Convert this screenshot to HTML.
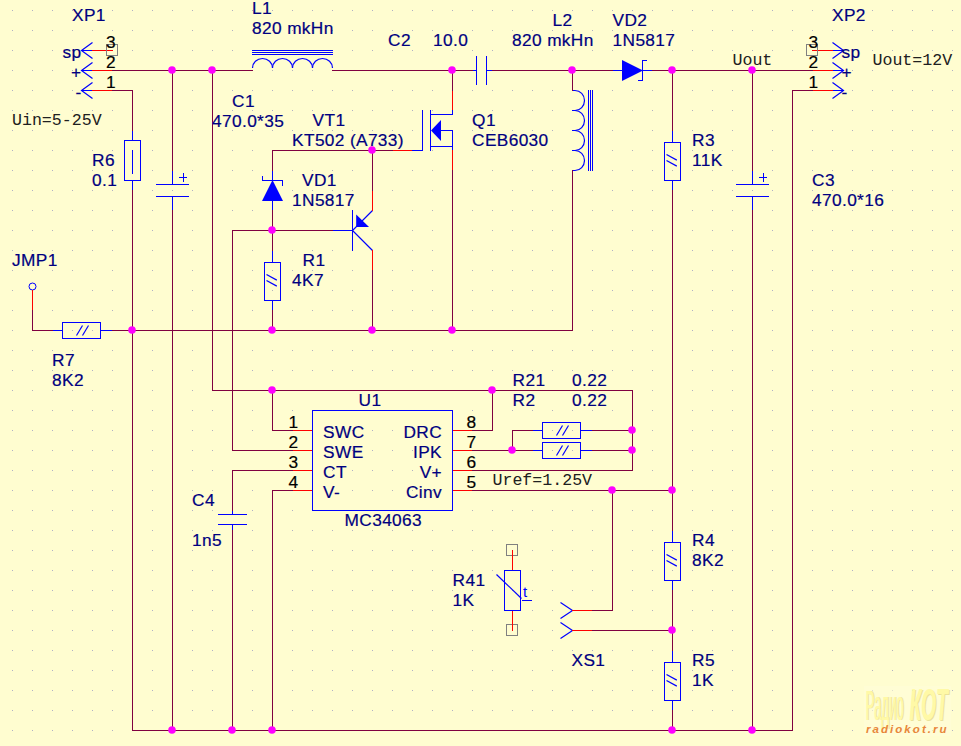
<!DOCTYPE html>
<html><head><meta charset="utf-8"><title>MC34063 SEPIC schematic</title>
<style>
html,body{margin:0;padding:0;background:#fffdd0;}
body{width:961px;height:746px;overflow:hidden;}
svg{display:block;}
svg *{shape-rendering:crispEdges;stroke-width:1;stroke-linecap:square;}
svg .aa{shape-rendering:geometricPrecision;stroke-linecap:butt;stroke-width:1.2;}
text{stroke:none;}
text.s{stroke:currentColor;stroke-width:0.2px;shape-rendering:geometricPrecision;}
.s{font-family:"Liberation Sans",sans-serif;letter-spacing:0.35px;}
.t{font-family:"Liberation Sans",sans-serif;}
.m{font-family:"Liberation Mono",monospace;}
.wm{font-family:"Liberation Sans",sans-serif;}
</style></head><body>
<svg width="961" height="746" viewBox="0 0 961 746">
<defs><pattern id="grid" x="0" y="0" width="20" height="20" patternUnits="userSpaceOnUse">
<rect x="12" y="10" width="1" height="1" fill="#b0b0c4" stroke="none"/></pattern></defs>
<rect x="0" y="0" width="961" height="746" fill="#fffdd0" stroke="none"/>
<rect x="0" y="0" width="961" height="746" fill="url(#grid)" stroke="none"/>
<g id="wm" stroke="none">
<rect x="864" y="686" width="87" height="50" fill="#fffed8" fill-opacity="0.6"/>
<text x="0" y="0" transform="translate(866.6,720.3) scale(0.60,1.96)" class="wm" font-size="22" font-weight="normal" stroke-width="0.6" fill="#ebe29a">Радио</text>
<text x="0" y="0" transform="translate(865.6,719.5) scale(0.60,1.96)" class="wm" font-size="22" font-weight="normal" stroke-width="0.6" fill="#fff9a6">Радио</text>
<text x="0" y="0" transform="translate(910.5,721) scale(0.80,1.88)" class="wm" font-size="24" font-weight="bold" font-style="italic" fill="#ebe29a">КОТ</text>
<text x="0" y="0" transform="translate(909.5,720.2) scale(0.80,1.88)" class="wm" font-size="24" font-weight="bold" font-style="italic" fill="#fff9a6">КОТ</text>
<text x="866" y="733" class="wm" font-size="11.5" font-weight="bold" font-style="italic" fill="#e8873a" letter-spacing="2.05">radiokot.ru</text>
</g>
<g transform="translate(0.5,0.5)">
<polyline points="81,50 92,50" stroke="#0000ff" fill="none"/>
<polyline points="92,42 81,50 92,58" stroke="#0000ff" fill="none" class="aa"/>
<polyline points="92,50 112,50" stroke="#ff0000" fill="none"/>
<polyline points="81,70 92,70" stroke="#0000ff" fill="none"/>
<polyline points="92,62 81,70 92,78" stroke="#0000ff" fill="none" class="aa"/>
<polyline points="92,70 112,70" stroke="#ff0000" fill="none"/>
<polyline points="81,90 92,90" stroke="#0000ff" fill="none"/>
<polyline points="92,82 81,90 92,98" stroke="#0000ff" fill="none" class="aa"/>
<polyline points="92,90 112,90" stroke="#ff0000" fill="none"/>
<rect x="106" y="44" width="11" height="11" stroke="#808080" fill="none"/>
<polyline points="843,50 832,50" stroke="#0000ff" fill="none"/>
<polyline points="832,42 843,50 832,58" stroke="#0000ff" fill="none" class="aa"/>
<polyline points="832,50 812,50" stroke="#ff0000" fill="none"/>
<polyline points="843,70 832,70" stroke="#0000ff" fill="none"/>
<polyline points="832,62 843,70 832,78" stroke="#0000ff" fill="none" class="aa"/>
<polyline points="832,70 812,70" stroke="#ff0000" fill="none"/>
<polyline points="843,90 832,90" stroke="#0000ff" fill="none"/>
<polyline points="832,82 843,90 832,98" stroke="#0000ff" fill="none" class="aa"/>
<polyline points="832,90 812,90" stroke="#ff0000" fill="none"/>
<rect x="806" y="44" width="11" height="11" stroke="#808080" fill="none"/>
<polyline points="560,602 572,610 560,618" stroke="#0000ff" fill="none" class="aa"/>
<polyline points="572,610 592,610" stroke="#ff0000" fill="none"/>
<polyline points="560,622 572,630 560,638" stroke="#0000ff" fill="none" class="aa"/>
<polyline points="572,630 592,630" stroke="#ff0000" fill="none"/>
<polyline points="132,130 132,140" stroke="#0000ff" fill="none"/>
<polyline points="132,180 132,190" stroke="#0000ff" fill="none"/>
<rect x="124" y="140" width="16" height="40" stroke="#0000ff" fill="none"/>
<polyline points="132,150 132,173" stroke="#0000ff" fill="none"/>
<polyline points="672,130 672,142" stroke="#0000ff" fill="none"/>
<polyline points="672,180 672,190" stroke="#0000ff" fill="none"/>
<rect x="664" y="142" width="16" height="38" stroke="#0000ff" fill="none"/>
<polyline points="666,154 676.3,159.6" stroke="#0000ff" fill="none" class="aa"/>
<polyline points="666,160 676.3,165.6" stroke="#0000ff" fill="none" class="aa"/>
<polyline points="272,250 272,262" stroke="#0000ff" fill="none"/>
<polyline points="272,300 272,310" stroke="#0000ff" fill="none"/>
<rect x="264" y="262" width="16" height="38" stroke="#0000ff" fill="none"/>
<polyline points="266,274 276.3,279.6" stroke="#0000ff" fill="none" class="aa"/>
<polyline points="266,280 276.3,285.6" stroke="#0000ff" fill="none" class="aa"/>
<polyline points="672,530 672,542" stroke="#0000ff" fill="none"/>
<polyline points="672,580 672,590" stroke="#0000ff" fill="none"/>
<rect x="664" y="542" width="16" height="38" stroke="#0000ff" fill="none"/>
<polyline points="666,554 676.3,559.6" stroke="#0000ff" fill="none" class="aa"/>
<polyline points="666,560 676.3,565.6" stroke="#0000ff" fill="none" class="aa"/>
<polyline points="672,650 672,662" stroke="#0000ff" fill="none"/>
<polyline points="672,700 672,710" stroke="#0000ff" fill="none"/>
<rect x="664" y="662" width="16" height="38" stroke="#0000ff" fill="none"/>
<polyline points="666,674 676.3,679.6" stroke="#0000ff" fill="none" class="aa"/>
<polyline points="666,680 676.3,685.6" stroke="#0000ff" fill="none" class="aa"/>
<polyline points="52,330 62,330" stroke="#0000ff" fill="none"/>
<polyline points="100,330 112,330" stroke="#0000ff" fill="none"/>
<rect x="62" y="322" width="38" height="16" stroke="#0000ff" fill="none"/>
<polyline points="76,335 82,325" stroke="#0000ff" fill="none" class="aa"/>
<polyline points="82,335 88,325" stroke="#0000ff" fill="none" class="aa"/>
<polyline points="532,430 542,430" stroke="#0000ff" fill="none"/>
<polyline points="580,430 592,430" stroke="#0000ff" fill="none"/>
<rect x="542" y="422" width="38" height="16" stroke="#0000ff" fill="none"/>
<polyline points="556,435 562,425" stroke="#0000ff" fill="none" class="aa"/>
<polyline points="562,435 568,425" stroke="#0000ff" fill="none" class="aa"/>
<polyline points="532,450 542,450" stroke="#0000ff" fill="none"/>
<polyline points="580,450 592,450" stroke="#0000ff" fill="none"/>
<rect x="542" y="442" width="38" height="16" stroke="#0000ff" fill="none"/>
<polyline points="556,455 562,445" stroke="#0000ff" fill="none" class="aa"/>
<polyline points="562,455 568,445" stroke="#0000ff" fill="none" class="aa"/>
<polyline points="172,170 172,184" stroke="#0000ff" fill="none"/>
<polyline points="172,196 172,210" stroke="#0000ff" fill="none"/>
<polyline points="156,184 188,184" stroke="#0000ff" fill="none"/>
<polyline points="156,196 188,196" stroke="#0000ff" fill="none"/>
<polyline points="179,177 186,177" stroke="#0000ff" fill="none"/>
<polyline points="183,173 183,181" stroke="#0000ff" fill="none"/>
<polyline points="752,170 752,184" stroke="#0000ff" fill="none"/>
<polyline points="752,196 752,210" stroke="#0000ff" fill="none"/>
<polyline points="736,184 768,184" stroke="#0000ff" fill="none"/>
<polyline points="736,196 768,196" stroke="#0000ff" fill="none"/>
<polyline points="759,177 766,177" stroke="#0000ff" fill="none"/>
<polyline points="763,173 763,181" stroke="#0000ff" fill="none"/>
<polyline points="472,70 476,70" stroke="#0000ff" fill="none"/>
<polyline points="486,70 492,70" stroke="#0000ff" fill="none"/>
<polyline points="476,56 476,84" stroke="#0000ff" fill="none"/>
<polyline points="486,56 486,84" stroke="#0000ff" fill="none"/>
<polyline points="232,510 232,514" stroke="#0000ff" fill="none"/>
<polyline points="232,524 232,530" stroke="#0000ff" fill="none"/>
<polyline points="218,514 246,514" stroke="#0000ff" fill="none"/>
<polyline points="218,524 246,524" stroke="#0000ff" fill="none"/>
<path d="M252,67.5 A10,9.5 0 0 1 272,67.5" stroke="#0000ff" fill="none" class="aa"/>
<path d="M272,67.5 A10,9.5 0 0 1 292,67.5" stroke="#0000ff" fill="none" class="aa"/>
<path d="M292,67.5 A10,9.5 0 0 1 312,67.5" stroke="#0000ff" fill="none" class="aa"/>
<path d="M312,67.5 A10,9.5 0 0 1 332,67.5" stroke="#0000ff" fill="none" class="aa"/>
<polyline points="252,50 332,50" stroke="#0000ff" fill="none"/>
<polyline points="252,52 332,52" stroke="#0000ff" fill="none"/>
<polyline points="252,54 332,54" stroke="#0000ff" fill="none"/>
<path d="M574.5,90 A9.5,10 0 0 1 574.5,110" stroke="#0000ff" fill="none" class="aa"/>
<path d="M574.5,110 A9.5,10 0 0 1 574.5,130" stroke="#0000ff" fill="none" class="aa"/>
<path d="M574.5,130 A9.5,10 0 0 1 574.5,150" stroke="#0000ff" fill="none" class="aa"/>
<path d="M574.5,150 A9.5,10 0 0 1 574.5,170" stroke="#0000ff" fill="none" class="aa"/>
<polyline points="572,90 574,90" stroke="#0000ff" fill="none"/>
<polyline points="572,110 574,110" stroke="#0000ff" fill="none"/>
<polyline points="572,130 574,130" stroke="#0000ff" fill="none"/>
<polyline points="572,150 574,150" stroke="#0000ff" fill="none"/>
<polyline points="572,170 574,170" stroke="#0000ff" fill="none"/>
<polyline points="588,90 588,170" stroke="#0000ff" fill="none"/>
<polyline points="590,90 590,170" stroke="#0000ff" fill="none"/>
<polyline points="592,90 592,170" stroke="#0000ff" fill="none"/>
<polyline points="272,170 272,180" stroke="#0000ff" fill="none"/>
<polyline points="272,200 272,210" stroke="#0000ff" fill="none"/>
<polygon points="261.5,200.5 282.5,200.5 272,179.5" fill="#0000ff" stroke="none" class="aa"/>
<polyline points="262,176 262,180 282,180 282,185" stroke="#0000ff" fill="none"/>
<polyline points="612,70 622,70" stroke="#0000ff" fill="none"/>
<polyline points="642,70 652,70" stroke="#0000ff" fill="none"/>
<polygon points="621.5,59.5 621.5,80.5 642.5,70" fill="#0000ff" stroke="none" class="aa"/>
<polyline points="646,60 642,60 642,80 638,80" stroke="#0000ff" fill="none"/>
<polyline points="332,230 352,230" stroke="#0000ff" fill="none"/>
<polyline points="352,210 352,250" stroke="#0000ff" fill="none"/>
<polyline points="372,210 352,230 372,250" stroke="#0000ff" fill="none" class="aa"/>
<polyline points="372,190 372,210" stroke="#ff0000" fill="none"/>
<polyline points="372,250 372,270" stroke="#ff0000" fill="none"/>
<polygon points="355.7,213.9 355.7,226.4 368.5,226.4" fill="#0000ff" stroke="none" class="aa"/>
<polyline points="392,150 412,150" stroke="#ff0000" fill="none"/>
<polyline points="412,150 422,150 422,110" stroke="#0000ff" fill="none"/>
<polyline points="430,110 430,150" stroke="#0000ff" fill="none"/>
<polyline points="452,90 452,110" stroke="#ff0000" fill="none"/>
<polyline points="452,110 452,114 430,114" stroke="#0000ff" fill="none"/>
<polyline points="441,130 452,130 452,150" stroke="#0000ff" fill="none"/>
<polyline points="430,146 452,146" stroke="#0000ff" fill="none"/>
<polyline points="452,150 452,170" stroke="#ff0000" fill="none"/>
<polygon points="430.5,130 440.5,119.5 440.5,140.5" fill="#0000ff" stroke="none" class="aa"/>
<circle cx="32" cy="286" r="3.5" stroke="#0000ff" fill="none" class="aa" style="stroke-width:1"/>
<polyline points="32,290 32,310" stroke="#ff0000" fill="none"/>
<rect x="506" y="544" width="11" height="11" stroke="#808080" fill="none"/>
<rect x="506" y="624" width="11" height="11" stroke="#808080" fill="none"/>
<polyline points="512,550 512,570" stroke="#ff0000" fill="none"/>
<polyline points="512,610 512,630" stroke="#ff0000" fill="none"/>
<rect x="504" y="570" width="16" height="40" stroke="#0000ff" fill="none"/>
<polyline points="496,574 521,598" stroke="#0000ff" fill="none" class="aa"/>
<polyline points="522,600 531,600" stroke="#0000ff" fill="none"/>
<polyline points="292,430 312,430" stroke="#ff0000" fill="none"/>
<polyline points="452,430 472,430" stroke="#ff0000" fill="none"/>
<polyline points="292,450 312,450" stroke="#ff0000" fill="none"/>
<polyline points="452,450 472,450" stroke="#ff0000" fill="none"/>
<polyline points="292,470 312,470" stroke="#ff0000" fill="none"/>
<polyline points="452,470 472,470" stroke="#ff0000" fill="none"/>
<polyline points="292,490 312,490" stroke="#ff0000" fill="none"/>
<polyline points="452,490 472,490" stroke="#ff0000" fill="none"/>
<rect x="312" y="410" width="140" height="100" stroke="#0000ff" fill="none"/>
<polyline points="112,70 252,70" stroke="#800040" fill="none"/>
<polyline points="332,70 472,70" stroke="#800040" fill="none"/>
<polyline points="492,70 612,70" stroke="#800040" fill="none"/>
<polyline points="652,70 812,70" stroke="#800040" fill="none"/>
<polyline points="112,90 132,90 132,130" stroke="#800040" fill="none"/>
<polyline points="132,190 132,730 792,730 792,90 812,90" stroke="#800040" fill="none"/>
<polyline points="172,70 172,170" stroke="#800040" fill="none"/>
<polyline points="172,210 172,730" stroke="#800040" fill="none"/>
<polyline points="212,70 212,390 632,390 632,470 472,470" stroke="#800040" fill="none"/>
<polyline points="272,390 272,430 292,430" stroke="#800040" fill="none"/>
<polyline points="492,390 492,430 472,430" stroke="#800040" fill="none"/>
<polyline points="332,230 232,230 232,450 292,450" stroke="#800040" fill="none"/>
<polyline points="292,470 232,470 232,510" stroke="#800040" fill="none"/>
<polyline points="232,530 232,730" stroke="#800040" fill="none"/>
<polyline points="292,490 272,490 272,730" stroke="#800040" fill="none"/>
<polyline points="392,150 272,150 272,170" stroke="#800040" fill="none"/>
<polyline points="272,210 272,250" stroke="#800040" fill="none"/>
<polyline points="272,310 272,330" stroke="#800040" fill="none"/>
<polyline points="372,150 372,190" stroke="#800040" fill="none"/>
<polyline points="372,270 372,330" stroke="#800040" fill="none"/>
<polyline points="112,330 572,330 572,170" stroke="#800040" fill="none"/>
<polyline points="452,70 452,90" stroke="#800040" fill="none"/>
<polyline points="452,170 452,330" stroke="#800040" fill="none"/>
<polyline points="572,70 572,90" stroke="#800040" fill="none"/>
<polyline points="672,70 672,130" stroke="#800040" fill="none"/>
<polyline points="672,190 672,530" stroke="#800040" fill="none"/>
<polyline points="672,590 672,650" stroke="#800040" fill="none"/>
<polyline points="672,710 672,730" stroke="#800040" fill="none"/>
<polyline points="472,490 672,490" stroke="#800040" fill="none"/>
<polyline points="612,490 612,610 592,610" stroke="#800040" fill="none"/>
<polyline points="592,630 672,630" stroke="#800040" fill="none"/>
<polyline points="752,70 752,170" stroke="#800040" fill="none"/>
<polyline points="752,210 752,730" stroke="#800040" fill="none"/>
<polyline points="32,310 32,330 52,330" stroke="#800040" fill="none"/>
<polyline points="472,450 532,450" stroke="#800040" fill="none"/>
<polyline points="512,450 512,430 532,430" stroke="#800040" fill="none"/>
<polyline points="592,430 632,430" stroke="#800040" fill="none"/>
<polyline points="592,450 632,450" stroke="#800040" fill="none"/>
<g stroke="none" fill="#ff00ff" class="aa">
<circle cx="171.5" cy="69.5" r="3.8" class="aa"/>
<circle cx="211.5" cy="69.5" r="3.8" class="aa"/>
<circle cx="451.5" cy="69.5" r="3.8" class="aa"/>
<circle cx="571.5" cy="69.5" r="3.8" class="aa"/>
<circle cx="671.5" cy="69.5" r="3.8" class="aa"/>
<circle cx="751.5" cy="69.5" r="3.8" class="aa"/>
<circle cx="371.5" cy="149.5" r="3.8" class="aa"/>
<circle cx="271.5" cy="229.5" r="3.8" class="aa"/>
<circle cx="131.5" cy="329.5" r="3.8" class="aa"/>
<circle cx="271.5" cy="329.5" r="3.8" class="aa"/>
<circle cx="371.5" cy="329.5" r="3.8" class="aa"/>
<circle cx="451.5" cy="329.5" r="3.8" class="aa"/>
<circle cx="271.5" cy="389.5" r="3.8" class="aa"/>
<circle cx="491.5" cy="389.5" r="3.8" class="aa"/>
<circle cx="511.5" cy="449.5" r="3.8" class="aa"/>
<circle cx="631.5" cy="429.5" r="3.8" class="aa"/>
<circle cx="631.5" cy="449.5" r="3.8" class="aa"/>
<circle cx="611.5" cy="489.5" r="3.8" class="aa"/>
<circle cx="671.5" cy="489.5" r="3.8" class="aa"/>
<circle cx="671.5" cy="629.5" r="3.8" class="aa"/>
<circle cx="171.5" cy="729.5" r="3.8" class="aa"/>
<circle cx="231.5" cy="729.5" r="3.8" class="aa"/>
<circle cx="271.5" cy="729.5" r="3.8" class="aa"/>
<circle cx="671.5" cy="729.5" r="3.8" class="aa"/>
<circle cx="751.5" cy="729.5" r="3.8" class="aa"/>
</g>
</g>
<g>
<text x="523" y="597" fill="#0000ff" color="#0000ff" font-size="15" class="t" text-anchor="start">t</text>
<text x="293.5" y="427.7" fill="#000" color="#000" font-size="17.3" class="s" text-anchor="middle">1</text>
<text x="471.5" y="427.7" fill="#000" color="#000" font-size="17.3" class="s" text-anchor="middle">8</text>
<text x="293.5" y="447.7" fill="#000" color="#000" font-size="17.3" class="s" text-anchor="middle">2</text>
<text x="471.5" y="447.7" fill="#000" color="#000" font-size="17.3" class="s" text-anchor="middle">7</text>
<text x="293.5" y="467.7" fill="#000" color="#000" font-size="17.3" class="s" text-anchor="middle">3</text>
<text x="471.5" y="467.7" fill="#000" color="#000" font-size="17.3" class="s" text-anchor="middle">6</text>
<text x="293.5" y="487.7" fill="#000" color="#000" font-size="17.3" class="s" text-anchor="middle">4</text>
<text x="471.5" y="487.7" fill="#000" color="#000" font-size="17.3" class="s" text-anchor="middle">5</text>
<text x="323.1" y="438.0" fill="#000080" color="#000080" font-size="17.3" class="s" text-anchor="start">SWC</text>
<text x="442" y="438.0" fill="#000080" color="#000080" font-size="17.3" class="s" text-anchor="end">DRC</text>
<text x="323.1" y="458.0" fill="#000080" color="#000080" font-size="17.3" class="s" text-anchor="start">SWE</text>
<text x="442" y="458.0" fill="#000080" color="#000080" font-size="17.3" class="s" text-anchor="end">IPK</text>
<text x="323.1" y="478.0" fill="#000080" color="#000080" font-size="17.3" class="s" text-anchor="start">CT</text>
<text x="442" y="478.0" fill="#000080" color="#000080" font-size="17.3" class="s" text-anchor="end">V+</text>
<text x="323.1" y="498.0" fill="#000080" color="#000080" font-size="17.3" class="s" text-anchor="start">V-</text>
<text x="442" y="498.0" fill="#000080" color="#000080" font-size="17.3" class="s" text-anchor="end">Cinv</text>
<text x="358.6" y="406.2" fill="#000080" color="#000080" font-size="17.3" class="s" text-anchor="start">U1</text>
<text x="344.6" y="526.2" fill="#000080" color="#000080" font-size="17.3" class="s" text-anchor="start">MC34063</text>
<text x="72.1" y="20.7" fill="#000080" color="#000080" font-size="17.3" class="s" text-anchor="start">XP1</text>
<text x="832.1" y="20.7" fill="#000080" color="#000080" font-size="17.3" class="s" text-anchor="start">XP2</text>
<text x="81.5" y="57.900000000000006" fill="#000080" color="#000080" font-size="17.3" class="s" text-anchor="end">sp</text>
<text x="841.6" y="57.900000000000006" fill="#000080" color="#000080" font-size="17.3" class="s" text-anchor="start">sp</text>
<text x="81.5" y="77.9" fill="#000080" color="#000080" font-size="17.3" class="s" text-anchor="end">+</text>
<text x="841.6" y="77.9" fill="#000080" color="#000080" font-size="17.3" class="s" text-anchor="start">+</text>
<text x="81.5" y="97.9" fill="#000080" color="#000080" font-size="17.3" class="s" text-anchor="end">-</text>
<text x="841.6" y="97.9" fill="#000080" color="#000080" font-size="17.3" class="s" text-anchor="start">-</text>
<text x="111" y="47.7" fill="#000" color="#000" font-size="17.3" class="s" text-anchor="middle">3</text>
<text x="813.5" y="47.7" fill="#000" color="#000" font-size="17.3" class="s" text-anchor="middle">3</text>
<text x="111" y="67.7" fill="#000" color="#000" font-size="17.3" class="s" text-anchor="middle">2</text>
<text x="813.5" y="67.7" fill="#000" color="#000" font-size="17.3" class="s" text-anchor="middle">2</text>
<text x="111" y="87.7" fill="#000" color="#000" font-size="17.3" class="s" text-anchor="middle">1</text>
<text x="813.5" y="87.7" fill="#000" color="#000" font-size="17.3" class="s" text-anchor="middle">1</text>
<text x="252.1" y="14.2" fill="#000080" color="#000080" font-size="17.3" class="s" text-anchor="start">L1</text>
<text x="252.1" y="34.2" fill="#000080" color="#000080" font-size="17.3" class="s" text-anchor="start">820 mkHn</text>
<text x="232.1" y="106.7" fill="#000080" color="#000080" font-size="17.3" class="s" text-anchor="start">C1</text>
<text x="212.1" y="126.7" fill="#000080" color="#000080" font-size="17.3" class="s" text-anchor="start">470.0*35</text>
<text x="312.6" y="126.2" fill="#000080" color="#000080" font-size="17.3" class="s" text-anchor="start">VT1</text>
<text x="292.1" y="146.2" fill="#000080" color="#000080" font-size="17.3" class="s" text-anchor="start">KT502 (A733)</text>
<text x="302.1" y="186.2" fill="#000080" color="#000080" font-size="17.3" class="s" text-anchor="start">VD1</text>
<text x="292.1" y="206.2" fill="#000080" color="#000080" font-size="17.3" class="s" text-anchor="start">1N5817</text>
<text x="302.6" y="266.2" fill="#000080" color="#000080" font-size="17.3" class="s" text-anchor="start">R1</text>
<text x="292.1" y="286.2" fill="#000080" color="#000080" font-size="17.3" class="s" text-anchor="start">4K7</text>
<text x="92.1" y="166.2" fill="#000080" color="#000080" font-size="17.3" class="s" text-anchor="start">R6</text>
<text x="92.1" y="186.2" fill="#000080" color="#000080" font-size="17.3" class="s" text-anchor="start">0.1</text>
<text x="12.1" y="266.2" fill="#000080" color="#000080" font-size="17.3" class="s" text-anchor="start">JMP1</text>
<text x="52.1" y="366.2" fill="#000080" color="#000080" font-size="17.3" class="s" text-anchor="start">R7</text>
<text x="52.1" y="386.2" fill="#000080" color="#000080" font-size="17.3" class="s" text-anchor="start">8K2</text>
<text x="388.1" y="46.2" fill="#000080" color="#000080" font-size="17.3" class="s" text-anchor="start">C2</text>
<text x="433.1" y="46.2" fill="#000080" color="#000080" font-size="17.3" class="s" text-anchor="start">10.0</text>
<text x="552.6" y="26.2" fill="#000080" color="#000080" font-size="17.3" class="s" text-anchor="start">L2</text>
<text x="512.1" y="46.2" fill="#000080" color="#000080" font-size="17.3" class="s" text-anchor="start">820 mkHn</text>
<text x="612.6" y="26.2" fill="#000080" color="#000080" font-size="17.3" class="s" text-anchor="start">VD2</text>
<text x="612.6" y="46.2" fill="#000080" color="#000080" font-size="17.3" class="s" text-anchor="start">1N5817</text>
<text x="472.1" y="126.2" fill="#000080" color="#000080" font-size="17.3" class="s" text-anchor="start">Q1</text>
<text x="472.1" y="146.2" fill="#000080" color="#000080" font-size="17.3" class="s" text-anchor="start">CEB6030</text>
<text x="692.1" y="146.2" fill="#000080" color="#000080" font-size="17.3" class="s" text-anchor="start">R3</text>
<text x="692.1" y="166.2" fill="#000080" color="#000080" font-size="17.3" class="s" text-anchor="start">11K</text>
<text x="812.1" y="185.7" fill="#000080" color="#000080" font-size="17.3" class="s" text-anchor="start">C3</text>
<text x="812.1" y="205.7" fill="#000080" color="#000080" font-size="17.3" class="s" text-anchor="start">470.0*16</text>
<text x="512.6" y="386.2" fill="#000080" color="#000080" font-size="17.3" class="s" text-anchor="start">R21</text>
<text x="572.1" y="386.2" fill="#000080" color="#000080" font-size="17.3" class="s" text-anchor="start">0.22</text>
<text x="512.6" y="406.2" fill="#000080" color="#000080" font-size="17.3" class="s" text-anchor="start">R2</text>
<text x="572.1" y="406.2" fill="#000080" color="#000080" font-size="17.3" class="s" text-anchor="start">0.22</text>
<text x="192.1" y="506.2" fill="#000080" color="#000080" font-size="17.3" class="s" text-anchor="start">C4</text>
<text x="192.1" y="546.2" fill="#000080" color="#000080" font-size="17.3" class="s" text-anchor="start">1n5</text>
<text x="452.6" y="586.2" fill="#000080" color="#000080" font-size="17.3" class="s" text-anchor="start">R41</text>
<text x="452.6" y="606.2" fill="#000080" color="#000080" font-size="17.3" class="s" text-anchor="start">1K</text>
<text x="571.6" y="666.2" fill="#000080" color="#000080" font-size="17.3" class="s" text-anchor="start">XS1</text>
<text x="692.1" y="546.2" fill="#000080" color="#000080" font-size="17.3" class="s" text-anchor="start">R4</text>
<text x="692.1" y="566.2" fill="#000080" color="#000080" font-size="17.3" class="s" text-anchor="start">8K2</text>
<text x="692.1" y="666.2" fill="#000080" color="#000080" font-size="17.3" class="s" text-anchor="start">R5</text>
<text x="692.1" y="686.2" fill="#000080" color="#000080" font-size="17.3" class="s" text-anchor="start">1K</text>
<text x="12" y="124.5" fill="#202020" color="#202020" font-size="16.6" class="m" text-anchor="start">Uin=5-25V</text>
<text x="732.5" y="64.5" fill="#202020" color="#202020" font-size="16.6" class="m" text-anchor="start">Uout</text>
<text x="872.5" y="64.5" fill="#202020" color="#202020" font-size="16.6" class="m" text-anchor="start">Uout=12V</text>
<text x="492.5" y="484.5" fill="#202020" color="#202020" font-size="16.6" class="m" text-anchor="start">Uref=1.25V</text>
</g>
</svg>
</body></html>
